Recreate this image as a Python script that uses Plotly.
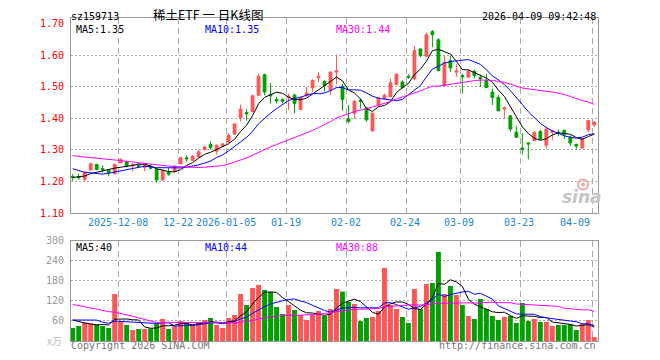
import plotly.graph_objects as go
import pandas as pd

# ---------------- data ----------------
dates = [
    "2025-11-26", "2025-11-27", "2025-11-28",
    "2025-12-01", "2025-12-02", "2025-12-03", "2025-12-04", "2025-12-05",
    "2025-12-08", "2025-12-09", "2025-12-10", "2025-12-11", "2025-12-12",
    "2025-12-15", "2025-12-16", "2025-12-17", "2025-12-18", "2025-12-19",
    "2025-12-22", "2025-12-23", "2025-12-24", "2025-12-25", "2025-12-26",
    "2025-12-29", "2025-12-30", "2025-12-31",
    "2026-01-05", "2026-01-06", "2026-01-07", "2026-01-08", "2026-01-09",
    "2026-01-12", "2026-01-13", "2026-01-14", "2026-01-15", "2026-01-16",
    "2026-01-19", "2026-01-20", "2026-01-21", "2026-01-22", "2026-01-23",
    "2026-01-26", "2026-01-27", "2026-01-28", "2026-01-29", "2026-01-30",
    "2026-02-02", "2026-02-03", "2026-02-04", "2026-02-05", "2026-02-06",
    "2026-02-09", "2026-02-10", "2026-02-11", "2026-02-12", "2026-02-13",
    "2026-02-24", "2026-02-25", "2026-02-26", "2026-02-27",
    "2026-03-02", "2026-03-03", "2026-03-04", "2026-03-05", "2026-03-06",
    "2026-03-09", "2026-03-10", "2026-03-11", "2026-03-12", "2026-03-13",
    "2026-03-16", "2026-03-17", "2026-03-18", "2026-03-19", "2026-03-20",
    "2026-03-23", "2026-03-24", "2026-03-25", "2026-03-26", "2026-03-27",
    "2026-03-30", "2026-03-31",
    "2026-04-01", "2026-04-02", "2026-04-03", "2026-04-07", "2026-04-08", "2026-04-09",
]

open_ = [
    1.216, 1.216, 1.207, 1.237, 1.254, 1.241, 1.235, 1.225, 1.259, 1.263,
    1.250, 1.251, 1.244, 1.249, 1.239, 1.205, 1.229, 1.233, 1.256, 1.275,
    1.267, 1.278, 1.301, 1.317, 1.296, 1.312, 1.325, 1.350, 1.402, 1.418,
    1.421, 1.473, 1.538, 1.475, 1.459, 1.459, 1.466, 1.473, 1.428, 1.471,
    1.496, 1.528, 1.517, 1.489, 1.546, 1.501, 1.398, 1.416, 1.457, 1.433,
    1.360, 1.442, 1.463, 1.468, 1.507, 1.515, 1.533, 1.525, 1.619, 1.596,
    1.674, 1.648, 1.504, 1.582, 1.546, 1.535, 1.530, 1.548, 1.529, 1.520,
    1.483, 1.466, 1.429, 1.408, 1.356, 1.306, 1.322, 1.330, 1.358, 1.315,
    1.356, 1.356, 1.362, 1.340, 1.317, 1.306, 1.364, 1.379,
]
high = [
    1.223, 1.225, 1.233, 1.259, 1.256, 1.251, 1.239, 1.257, 1.273, 1.266,
    1.259, 1.259, 1.254, 1.254, 1.242, 1.237, 1.244, 1.252, 1.278, 1.283,
    1.283, 1.301, 1.314, 1.327, 1.317, 1.322, 1.353, 1.384, 1.444, 1.429,
    1.475, 1.541, 1.541, 1.512, 1.468, 1.463, 1.478, 1.478, 1.470, 1.499,
    1.523, 1.546, 1.520, 1.548, 1.601, 1.509, 1.442, 1.457, 1.463, 1.436,
    1.418, 1.468, 1.478, 1.525, 1.542, 1.520, 1.539, 1.629, 1.621, 1.671,
    1.679, 1.653, 1.600, 1.598, 1.572, 1.541, 1.556, 1.554, 1.538, 1.541,
    1.494, 1.473, 1.437, 1.410, 1.376, 1.353, 1.324, 1.358, 1.364, 1.374,
    1.364, 1.364, 1.364, 1.346, 1.320, 1.337, 1.395, 1.390,
]
low = [
    1.202, 1.205, 1.200, 1.235, 1.235, 1.228, 1.216, 1.223, 1.257, 1.245,
    1.233, 1.244, 1.233, 1.238, 1.197, 1.203, 1.218, 1.228, 1.254, 1.263,
    1.265, 1.275, 1.298, 1.301, 1.285, 1.310, 1.323, 1.348, 1.390, 1.392,
    1.419, 1.470, 1.473, 1.447, 1.447, 1.447, 1.426, 1.416, 1.425, 1.468,
    1.483, 1.515, 1.485, 1.473, 1.509, 1.424, 1.384, 1.398, 1.431, 1.390,
    1.358, 1.440, 1.460, 1.466, 1.504, 1.494, 1.525, 1.520, 1.593, 1.594,
    1.625, 1.548, 1.500, 1.546, 1.530, 1.478, 1.528, 1.525, 1.499, 1.496,
    1.442, 1.421, 1.398, 1.358, 1.338, 1.285, 1.270, 1.327, 1.330, 1.304,
    1.330, 1.343, 1.335, 1.312, 1.301, 1.304, 1.356, 1.372,
]
close = [
    1.213, 1.212, 1.228, 1.256, 1.238, 1.237, 1.228, 1.254, 1.270, 1.249,
    1.254, 1.248, 1.252, 1.242, 1.205, 1.235, 1.223, 1.249, 1.275, 1.272,
    1.280, 1.294, 1.309, 1.308, 1.315, 1.319, 1.346, 1.382, 1.429, 1.414,
    1.471, 1.533, 1.483, 1.471, 1.455, 1.454, 1.470, 1.447, 1.466, 1.480,
    1.520, 1.532, 1.504, 1.546, 1.550, 1.459, 1.390, 1.454, 1.453, 1.395,
    1.416, 1.465, 1.473, 1.512, 1.539, 1.497, 1.529, 1.614, 1.598, 1.664,
    1.664, 1.551, 1.577, 1.559, 1.550, 1.531, 1.548, 1.535, 1.525, 1.497,
    1.466, 1.424, 1.433, 1.366, 1.340, 1.302, 1.319, 1.356, 1.335, 1.366,
    1.360, 1.352, 1.348, 1.322, 1.312, 1.335, 1.393, 1.388,
]
volume = [
    39, 45, 55, 52, 50, 45, 39, 141, 57, 48,
    33, 36, 36, 38, 52, 66, 36, 45, 60, 54,
    48, 54, 63, 69, 48, 39, 69, 78, 141, 108,
    159, 168, 153, 147, 102, 81, 108, 93, 78, 63,
    78, 90, 75, 96, 156, 148, 117, 111, 60, 69,
    72, 90, 219, 108, 96, 72, 54, 156, 96, 171,
    174, 267, 141, 165, 138, 108, 75, 66, 126, 96,
    75, 63, 72, 75, 54, 114, 60, 66, 57, 57,
    45, 48, 48, 50, 33, 51, 63, 12,
]
# sessions before the visible window (only feed the moving averages)
prior_close = [
    1.300, 1.295, 1.290, 1.285, 1.283, 1.310, 1.320, 1.325, 1.322, 1.320,
    1.330, 1.320, 1.311, 1.280, 1.270, 1.270, 1.290, 1.305, 1.315, 1.322,
    1.280, 1.275, 1.270, 1.265, 1.254, 1.200, 1.215, 1.220, 1.215,
]
prior_volume = [
    170, 150, 160, 145, 155, 165, 175, 160, 180, 170,
    190, 175, 185, 170, 60, 45, 50, 55, 50, 52,
    48, 55, 52, 50, 110, 70, 75, 66, 65,
]

tick_dates = ["2025-12-08", "2025-12-22", "2026-01-05", "2026-01-19", "2026-02-02",
              "2026-02-24", "2026-03-09", "2026-03-23", "2026-04-09"]
tick_labels = ["2025-12-08", "12-22", "2026-01-05", "01-19", "02-02",
               "02-24", "03-09", "03-23", "04-09"]
price_ticks = [1.10, 1.20, 1.30, 1.40, 1.50, 1.60, 1.70]
price_grid = [1.20, 1.30, 1.40, 1.50, 1.60]
vol_ticks = [60, 120, 180, 240, 300]
vol_grid = [60, 120, 180, 240]

# ---------------- derived ----------------
n = len(dates)
xs = list(range(n))
np_ = len(prior_close)
cs = pd.Series(prior_close + close)
vs = pd.Series(prior_volume + volume)
ma = {w: cs.rolling(w).mean().iloc[np_:].tolist() for w in (5, 10, 30)}
vma = {w: vs.rolling(w).mean().iloc[np_:].tolist() for w in (5, 10, 30)}

RED = "#ff5555"
GREEN = "#00a000"
MA_COL = {5: "#000000", 10: "#0000ff", 30: "#ff00ff"}
bar_colors = [RED if c >= o else GREEN for o, c in zip(open_, close)]

grid_x = [dates.index(d) - 0.33 for d in tick_dates]

fig = go.Figure()
fig.add_trace(go.Candlestick(
    x=xs, open=open_, high=high, low=low, close=close,
    increasing=dict(line=dict(color=RED, width=1), fillcolor=RED),
    decreasing=dict(line=dict(color=GREEN, width=1), fillcolor=GREEN),
    whiskerwidth=0, hoverinfo="skip", xaxis="x", yaxis="y", showlegend=False))
for w in (5, 10, 30):
    fig.add_trace(go.Scatter(x=xs, y=ma[w], mode="lines",
                             line=dict(color=MA_COL[w], width=1),
                             hoverinfo="skip", xaxis="x", yaxis="y", showlegend=False))
fig.add_trace(go.Bar(x=xs, y=volume, marker=dict(color=bar_colors, line=dict(width=0)),
                     width=0.82, hoverinfo="skip", xaxis="x2", yaxis="y2", showlegend=False))
for w in (5, 10, 30):
    fig.add_trace(go.Scatter(x=xs, y=vma[w], mode="lines",
                             line=dict(color=MA_COL[w], width=1),
                             hoverinfo="skip", xaxis="x2", yaxis="y2", showlegend=False))

L, R, T, B = 71, 598, 15, 341
PW, PH = R - L, B - T


def px(xp):
    return (xp - L) / PW


def py(yp):
    return (B - yp) / PH


MONO = "DejaVu Sans Mono"
BORDER = "#999999"
GRID = "#aaaaaa"

xcommon = dict(range=[-0.284, 87.62], showline=True, mirror=True, linecolor=BORDER, linewidth=1,
               tickvals=grid_x, showticklabels=False, ticks="", showgrid=True,
               gridcolor=GRID, griddash="6px,4px", gridwidth=1, zeroline=False, fixedrange=True)

ann = []


def text(t, x, y, color="#000000", size=10, xanchor="left", family=MONO, **kw):
    ann.append(dict(text=t, x=px(x), y=py(y), xref="paper", yref="paper", showarrow=False,
                    xanchor=xanchor, yanchor="middle", font=dict(family=family, size=size, color=color),
                    borderpad=0, **kw))


text("sz159713", 70, 13)
text("稀土ETF 一 日K线图", 207.5, 11.5, size=12.5, xanchor="center", family="Noto Sans CJK SC")
text("2026-04-09 09:42:48", 597, 13, xanchor="right")
text("MA5:1.35", 75, 26.8, MA_COL[5])
text("MA10:1.35", 204, 26.8, MA_COL[10])
text("MA30:1.44", 335, 26.8, MA_COL[30])
text("MA5:40", 75, 246.5, MA_COL[5])
text("MA10:44", 204, 246.5, MA_COL[10])
text("MA30:88", 335, 246.5, MA_COL[30])
text("Copyright 2026 SINA.COM", 70, 346, "#777777")
text("http://finance.sina.com.cn", 597, 346, "#777777", xanchor="right")
text("x万", 63, 340, "#bbbbbb", xanchor="right", family="Noto Sans CJK SC", size=10)
text("<b><i>sina</i></b>", 582, 196, "#c4c4c4", size=17, xanchor="center", family="DejaVu Sans")

for gx, lab, d in zip(grid_x, tick_labels, tick_dates):
    last = d == tick_dates[-1]
    ann.append(dict(text=lab, x=gx, y=py(221.5), xref="x", yref="paper", showarrow=False,
                    xanchor="right" if last else "center", yanchor="middle", xshift=-1,
                    borderpad=0, font=dict(family=MONO, size=10, color="#1a88d2")))

shapes = [
    dict(type="circle", xref="paper", yref="paper", x0=px(578), x1=px(588), y0=py(188), y1=py(178),
         line=dict(color="#f2a8a8", width=2), fillcolor="rgba(0,0,0,0)"),
    dict(type="circle", xref="paper", yref="paper", x0=px(581), x1=px(585), y0=py(185), y1=py(181),
         line=dict(width=0), fillcolor="#f2a8a8"),
]

fig.update_layout(
    width=660, height=360, autosize=False,
    margin=dict(l=L, r=660 - R, t=T, b=360 - B, pad=0),
    paper_bgcolor="#ffffff", plot_bgcolor="#ffffff",
    showlegend=False, hovermode=False, boxgap=0.33,
    xaxis=dict(anchor="y", rangeslider=dict(visible=False), **xcommon),
    xaxis2=dict(anchor="y2", matches="x", **xcommon),
    yaxis=dict(domain=[py(212), 1], range=[1.10, 1.717], anchor="x",
               tickvals=price_ticks, ticktext=[f"{v:.2f}" for v in price_ticks],
               tickfont=dict(family=MONO, size=10, color="#ff0000"),
               ticks="", ticklabelstandoff=4, showgrid=False, zeroline=False,
               showline=True, mirror=True, linecolor=BORDER, linewidth=1, fixedrange=True,
               minor=dict(tickvals=price_grid, showgrid=True, gridcolor=GRID, griddash="2px,2px",
                          gridwidth=1, ticks="")),
    yaxis2=dict(domain=[0, py(240)], range=[0, 300], anchor="x2",
                tickvals=vol_ticks, ticktext=[str(v) for v in vol_ticks],
                tickfont=dict(family=MONO, size=10, color="#999999"),
                ticks="", ticklabelstandoff=4, showgrid=False, zeroline=False,
                showline=True, mirror=True, linecolor=BORDER, linewidth=1, fixedrange=True,
                minor=dict(tickvals=vol_grid, showgrid=True, gridcolor=GRID, griddash="2px,2px",
                           gridwidth=1, ticks="")),
    annotations=ann, shapes=shapes,
)

fig.write_html("out.html", config={"displayModeBar": False, "staticPlot": True},
               post_script="document.body.style.margin='0';document.body.style.overflow='hidden';")
